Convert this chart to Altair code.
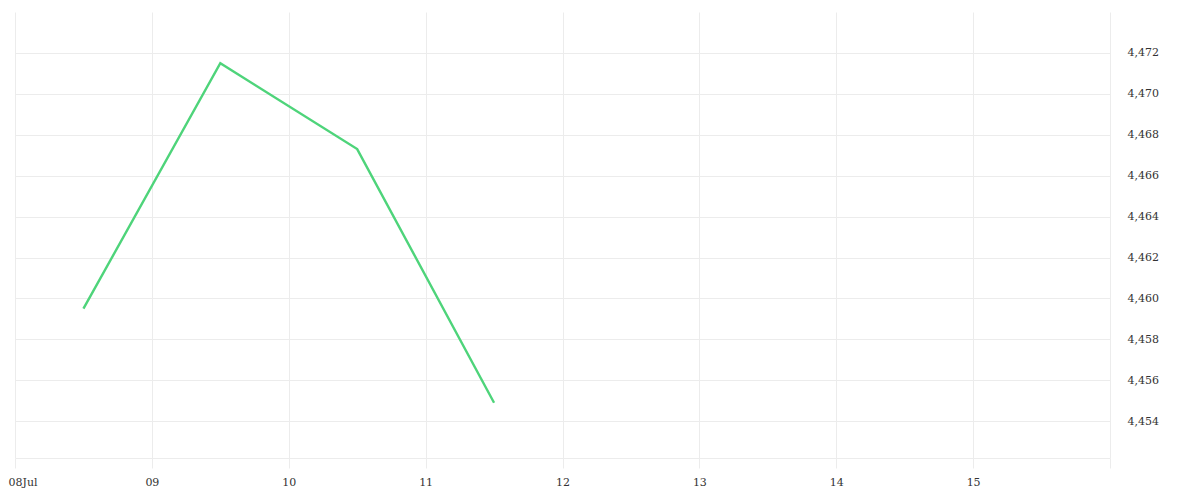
import altair as alt
import pandas as pd

dates = ["2024-07-08T12:00:00Z", "2024-07-09T12:00:00Z", "2024-07-10T12:00:00Z", "2024-07-11T12:00:00Z"]
values = [4459.5, 4471.5, 4467.3, 4454.9]
x_ticks = [8, 9, 10, 11, 12, 13, 14, 15, 16]
y_ticks = [4454, 4456, 4458, 4460, 4462, 4464, 4466, 4468, 4470, 4472]

df = pd.DataFrame({"date": dates, "value": values})

FONT = "DejaVu Serif"
GRID = "#ececec"
FIRST = "utcdate(datum.value) == 8"

chart = alt.Chart(df).mark_line(color="#4ed47a", strokeWidth=2.4).encode(
    x=alt.X(
        "date:T",
        scale=alt.Scale(
            type="utc",
            domain=[alt.DateTime(year=2024, month=7, date=8, utc=True),
                    alt.DateTime(year=2024, month=7, date=16, utc=True)],
        ),
        axis=alt.Axis(
            values=[alt.DateTime(year=2024, month=7, date=d, utc=True) for d in x_ticks],
            labelExpr="utcdate(datum.value) == 16 ? '' : (utcdate(datum.value) == 8 ? '08Jul' : utcFormat(datum.value, '%d'))",
            labelAlign={"condition": {"test": FIRST, "value": "left"}, "value": "center"},
            labelOffset={"condition": {"test": FIRST, "value": -7}, "value": 0},
            title=None,
            grid=True,
            gridColor=GRID,
            domainColor=GRID,
            tickColor=GRID,
            tickSize=10,
            labelPadding=8,
            labelFont=FONT,
            labelFontSize=11,
            labelColor="#333333",
            labelOverlap=False,
            labelBound=False,
            labelFlush=False,
        ),
    ),
    y=alt.Y(
        "value:Q",
        scale=alt.Scale(domain=[4452.2, 4474], zero=False, nice=False),
        axis=alt.Axis(
            orient="right",
            values=y_ticks,
            format=",d",
            title=None,
            grid=True,
            gridColor=GRID,
            domain=False,
            ticks=False,
            labelPadding=17,
            labelFont=FONT,
            labelFontSize=11,
            labelColor="#333333",
        ),
    ),
).properties(
    width=1095,
    height=446,
    autosize=alt.AutoSizeParams(type="none"),
    padding={"left": 7, "top": 4, "right": 80, "bottom": 30},
).configure_view(stroke=None)

chart.save("out.html", embed_options={"renderer": "svg", "actions": False})
